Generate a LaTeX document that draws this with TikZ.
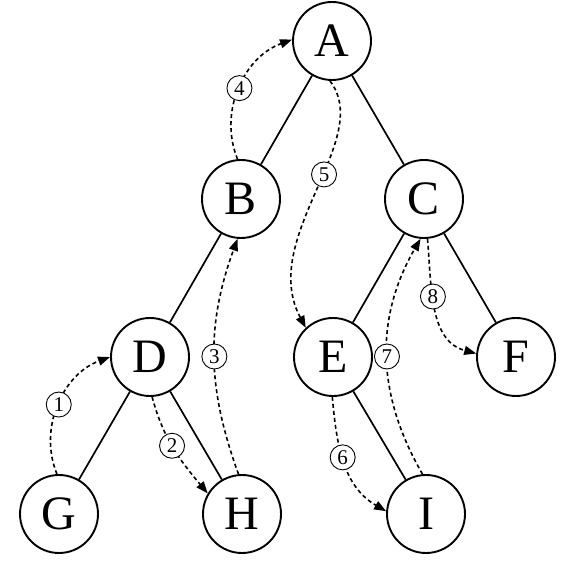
\documentclass[tikz,border=0pt]{standalone}
\usepackage{fontspec}
\setmainfont{Liberation Serif}
\usetikzlibrary{arrows.meta}
\begin{document}
\begin{tikzpicture}[x=1pt,y=1pt,
  vert/.style={circle,draw,line width=1.9pt,minimum size=78pt,inner sep=0pt,font=\fontsize{48}{48}\selectfont},
  edge/.style={line width=1.7pt},
  trav/.style={line width=1.6pt,dash pattern=on 4pt off 3pt,-{Triangle[length=12pt,width=9pt]}},
  lbl/.style={circle,draw,solid,fill=white,line width=0.9pt,inner sep=0pt,minimum size=25pt,font=\fontsize{21}{21}\selectfont}]
\useasboundingbox (0,0) rectangle (562,574);
\node[vert] (A) at (332,533) {A};
\node[vert] (B) at (241,375) {B};
\node[vert] (C) at (424,375) {C};
\node[vert] (D) at (150,217) {D};
\node[vert] (E) at (333,217) {E};
\node[vert] (F) at (516,217) {F};
\node[vert] (G) at (59,60) {G};
\node[vert] (H) at (242,60) {H};
\node[vert] (I) at (426,60) {I};
\draw[edge] (A) -- (B);
\draw[edge] (A) -- (C);
\draw[edge] (B) -- (D);
\draw[edge] (C) -- (E);
\draw[edge] (C) -- (F);
\draw[edge] (D) -- (G);
\draw[edge] (D) -- (H);
\draw[edge] (E) -- (I);
\draw[trav] (G.93) to[out=112,in=200] node[lbl,pos=0.5]{1} (D.180);
\draw[trav] (D.-87) to[out=-75,in=130] node[lbl,pos=0.47]{2} (H.149);
\draw[trav] (H.95) to[out=110,in=250] node[lbl,pos=0.5]{3} (B.-95);
\draw[trav] (B.95) to[out=112,in=200] node[lbl,pos=0.5]{4} (A.178);
\draw[trav] (A.-93) .. controls +(45,-58) and +(-48,90) .. node[lbl,pos=0.43]{5} (E.133);
\draw[trav] (E.-91) to[out=-85,in=150] node[lbl,pos=0.45]{6} (I.176);
\draw[trav] (I.95) to[out=120,in=240] node[lbl,pos=0.5]{7} (C.-95);
\draw[trav] (C.-85) to[out=-85,in=165] node[lbl,pos=0.4]{8} (F.175);
\end{tikzpicture}
\end{document}
